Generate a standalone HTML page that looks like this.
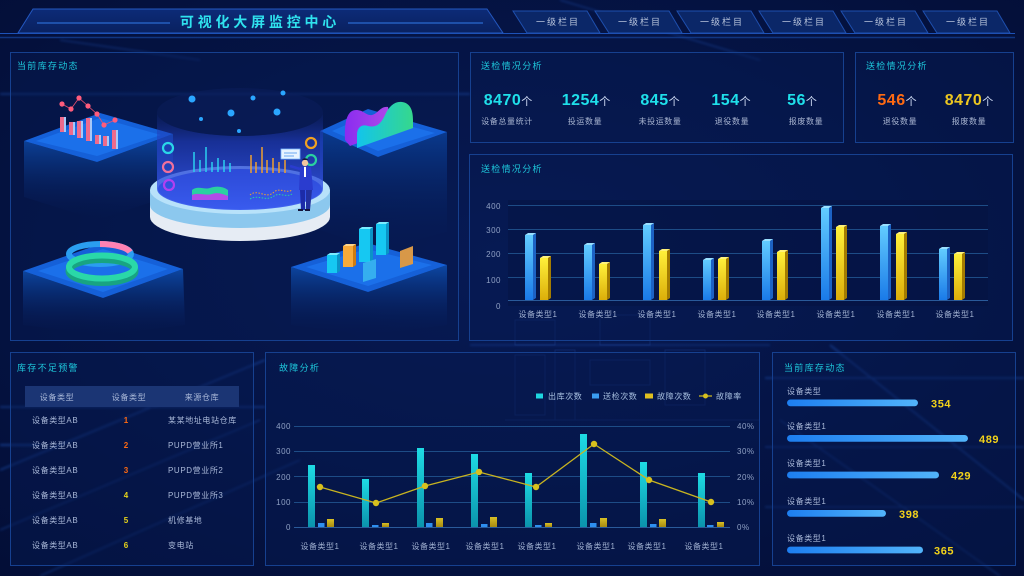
<!DOCTYPE html>
<html><head><meta charset="utf-8">
<style>
html,body{margin:0;padding:0;background:#04113d;width:1024px;height:576px;overflow:hidden;}
svg{display:block;}
text{font-family:"Liberation Sans","Noto Sans CJK SC",sans-serif;}
</style></head><body>
<svg width="1024" height="576" viewBox="0 0 1024 576" xmlns="http://www.w3.org/2000/svg">
<defs>
  <radialGradient id="bg" cx="50%" cy="45%" r="75%">
    <stop offset="0" stop-color="#071a55"/>
    <stop offset="1" stop-color="#030e36"/>
  </radialGradient>
  <linearGradient id="hdr" x1="0" y1="0" x2="0" y2="1">
    <stop offset="0" stop-color="#0c2b78"/>
    <stop offset="1" stop-color="#0a2160"/>
  </linearGradient>
  <linearGradient id="gb" x1="0" y1="0" x2="0" y2="1">
    <stop offset="0" stop-color="#62ccff"/>
    <stop offset="1" stop-color="#1a7ae8"/>
  </linearGradient>
  <linearGradient id="gy" x1="0" y1="0" x2="0" y2="1">
    <stop offset="0" stop-color="#fff03a"/>
    <stop offset="1" stop-color="#dcae0a"/>
  </linearGradient>
  <linearGradient id="gc" x1="0" y1="0" x2="0" y2="1">
    <stop offset="0" stop-color="#1edbe4"/>
    <stop offset="1" stop-color="#0b93ac"/>
  </linearGradient>
  <linearGradient id="gyy" x1="0" y1="0" x2="0" y2="1">
    <stop offset="0" stop-color="#d8c026"/>
    <stop offset="1" stop-color="#a88a10"/>
  </linearGradient>
  <linearGradient id="hb" x1="0" y1="0" x2="1" y2="0">
    <stop offset="0" stop-color="#1d7ef0"/>
    <stop offset="1" stop-color="#52b4fa"/>
  </linearGradient>
  <linearGradient id="blk" x1="0" y1="0" x2="0" y2="1">
    <stop offset="0" stop-color="#0d4aa8" stop-opacity="0.95"/>
    <stop offset="1" stop-color="#061a55" stop-opacity="0"/>
  </linearGradient>
  <linearGradient id="blk2" x1="0" y1="0" x2="0" y2="1">
    <stop offset="0" stop-color="#0a3c92" stop-opacity="0.95"/>
    <stop offset="1" stop-color="#061a55" stop-opacity="0"/>
  </linearGradient>
  <linearGradient id="cyl" x1="0" y1="0" x2="0" y2="1">
    <stop offset="0" stop-color="#1a2f8a" stop-opacity="0.15"/>
    <stop offset="0.3" stop-color="#2440c8" stop-opacity="0.6"/>
    <stop offset="1" stop-color="#3a5cf0" stop-opacity="0.95"/>
  </linearGradient>
  <linearGradient id="wave1" x1="0" y1="0" x2="1" y2="0">
    <stop offset="0" stop-color="#8a2cf0"/>
    <stop offset="1" stop-color="#b04ae8"/>
  </linearGradient>
  <linearGradient id="wave2" x1="0" y1="0" x2="1" y2="0">
    <stop offset="0" stop-color="#12c4ec"/>
    <stop offset="1" stop-color="#36d88c"/>
  </linearGradient>
  <filter id="blur"><feGaussianBlur stdDeviation="1.2"/></filter>
</defs>

<rect width="1024" height="576" fill="url(#bg)"/>

<!-- background streaks -->
<g stroke="#2f7cff" fill="none" opacity="0.35" filter="url(#blur)">
  <line x1="0" y1="94" x2="470" y2="94" stroke-width="1.5"/>
  <line x1="0" y1="407" x2="265" y2="407" stroke-width="1.5"/>
  <line x1="0" y1="445" x2="40" y2="445" stroke-width="2"/>
  <line x1="765" y1="378" x2="1024" y2="378" stroke-width="1.5"/>
  <line x1="765" y1="447" x2="1024" y2="447" stroke-width="1"/>
  <line x1="765" y1="507" x2="1024" y2="507" stroke-width="1"/>
  <line x1="0" y1="470" x2="265" y2="360" stroke-width="1.5"/>
  <line x1="0" y1="530" x2="260" y2="420" stroke-width="1"/>
  <line x1="40" y1="576" x2="300" y2="460" stroke-width="1"/>
  <line x1="830" y1="345" x2="1024" y2="500" stroke-width="1.5"/>
  <line x1="780" y1="420" x2="1000" y2="576" stroke-width="1"/>
  <line x1="60" y1="40" x2="200" y2="60" stroke-width="1"/>
  <line x1="560" y1="0" x2="760" y2="60" stroke-width="1"/>
  <line x1="470" y1="345" x2="770" y2="345" stroke-width="1"/>
</g>
<!-- faint circuit illustration -->
<g stroke="#3a6ad8" fill="none" opacity="0.18">
  <rect x="515" y="355" width="30" height="60"/>
  <rect x="555" y="350" width="20" height="70"/>
  <rect x="590" y="360" width="60" height="25"/>
  <rect x="665" y="350" width="40" height="55"/>
  <line x1="505" y1="420" x2="760" y2="420"/>
  <rect x="515" y="320" width="40" height="25"/>
  <rect x="600" y="315" width="50" height="30"/>
</g>

<!-- header -->
<polygon points="33,9 487,9 503,33 18,33" fill="url(#hdr)" stroke="#2458c0" stroke-width="1"/>
<line x1="37" y1="23" x2="170" y2="23" stroke="#2a6ad0" stroke-width="1.2"/>
<line x1="348" y1="23" x2="483" y2="23" stroke="#2a6ad0" stroke-width="1.2"/>
<text x="260" y="27" text-anchor="middle" font-size="14" font-weight="bold" fill="#2fe2ee" letter-spacing="3.8">可视化大屏监控中心</text>
<line x1="0" y1="33.5" x2="1015" y2="33.5" stroke="#1d52b8" stroke-width="1"/>
<line x1="0" y1="37.5" x2="1015" y2="37.5" stroke="#143f92" stroke-width="1.5" opacity="0.8"/>
<g>
  <polygon points="513,11 587,11 600,33 527,33" fill="#0b2768" stroke="#1e4fae"/>
  <polygon points="595,11 669,11 682,33 609,33" fill="#0b2768" stroke="#1e4fae"/>
  <polygon points="677,11 751,11 764,33 691,33" fill="#0b2768" stroke="#1e4fae"/>
  <polygon points="759,11 833,11 846,33 773,33" fill="#0b2768" stroke="#1e4fae"/>
  <polygon points="841,11 915,11 928,33 855,33" fill="#0b2768" stroke="#1e4fae"/>
  <polygon points="923,11 997,11 1010,33 937,33" fill="#0b2768" stroke="#1e4fae"/>
</g>
<g font-size="9" fill="#b8c4dc" letter-spacing="2" text-anchor="middle">
  <text x="558" y="25">一级栏目</text>
  <text x="640" y="25">一级栏目</text>
  <text x="722" y="25">一级栏目</text>
  <text x="804" y="25">一级栏目</text>
  <text x="886" y="25">一级栏目</text>
  <text x="968" y="25">一级栏目</text>
</g>

<!-- panels -->
<g fill="#061a52" fill-opacity="0.45" stroke="#16408f" stroke-width="1">
  <rect x="10.5" y="52.5" width="448" height="288"/>
  <rect x="470.5" y="52.5" width="373" height="90"/>
  <rect x="855.5" y="52.5" width="158" height="90"/>
  <rect x="469.5" y="154.5" width="543" height="186"/>
  <rect x="10.5" y="352.5" width="243" height="213"/>
  <rect x="265.5" y="352.5" width="494" height="213"/>
  <rect x="772.5" y="352.5" width="243" height="213"/>
</g>
<g font-size="9" fill="#1ec8dc" letter-spacing="1.3">
  <text x="17" y="69">当前库存动态</text>
  <text x="481" y="69">送检情况分析</text>
  <text x="866" y="69">送检情况分析</text>
  <text x="481" y="172">送检情况分析</text>
  <text x="17" y="371">库存不足预警</text>
  <text x="279" y="371">故障分析</text>
  <text x="784" y="371">当前库存动态</text>
</g>

<!-- ============ illustration ============ -->
<!-- top-left platform -->
<polygon points="24,141 97,162 173,134 173,195 97,220 24,197" fill="url(#blk)"/>
<polygon points="24,141 100,113 173,134 97,162" fill="#1560d8"/>
<polygon points="36,141 100,118 161,135 97,156" fill="#1b70ea"/>
<!-- top-right platform -->
<polygon points="320,131 378,157 447,132 447,232 378,250 320,230" fill="url(#blk2)"/>
<polygon points="320,131 368,109 447,132 378,157" fill="#1560d8"/>
<polygon points="332,131 369,115 435,133 378,151" fill="#1b70ea"/>
<!-- bottom-left platform -->
<polygon points="23,271 103,298 183,269 185,325 103,335 23,325" fill="url(#blk)"/>
<polygon points="23,271 103,243 183,269 103,298" fill="#1560d8"/>
<polygon points="38,271 103,249 168,269 103,292" fill="#1b70ea"/>
<!-- bottom-right platform -->
<polygon points="291,267 368,292 447,265 447,325 368,335 291,325" fill="url(#blk)"/>
<polygon points="291,267 367,243 447,265 368,292" fill="#1560d8"/>
<polygon points="306,267 367,249 432,265 368,286" fill="#1b70ea"/>

<!-- top-left bars chart -->
<g>
  <rect x="60" y="117" width="4" height="15" fill="#ee6a8c"/><rect x="64" y="117" width="2" height="15" fill="#a8c8f8"/>
  <rect x="69" y="122" width="4" height="13" fill="#ee6a8c"/><rect x="73" y="122" width="2" height="13" fill="#a8c8f8"/>
  <rect x="77" y="121" width="4" height="17" fill="#ee6a8c"/><rect x="81" y="121" width="2" height="17" fill="#a8c8f8"/>
  <rect x="86" y="118" width="4" height="23" fill="#ee6a8c"/><rect x="90" y="118" width="2" height="23" fill="#a8c8f8"/>
  <rect x="95" y="135" width="4" height="9" fill="#ee6a8c"/><rect x="99" y="135" width="2" height="9" fill="#a8c8f8"/>
  <rect x="103" y="136" width="4" height="10" fill="#ee6a8c"/><rect x="107" y="136" width="2" height="10" fill="#a8c8f8"/>
  <rect x="112" y="130" width="4" height="19" fill="#ee6a8c"/><rect x="116" y="130" width="2" height="19" fill="#a8c8f8"/>
  <polyline points="62,104 71,109 79,98 88,106 97,114 104,125 115,120" fill="none" stroke="#e8506e" stroke-width="0.8"/>
  <g fill="#ff5c7c">
    <circle cx="62" cy="104" r="2.6"/><circle cx="71" cy="109" r="2.6"/><circle cx="79" cy="98" r="2.6"/>
    <circle cx="88" cy="106" r="2.6"/><circle cx="97" cy="114" r="2.6"/><circle cx="104" cy="125" r="2.6"/><circle cx="115" cy="120" r="2.6"/>
  </g>
</g>
<!-- top-right waves -->
<path d="M345,140 C344,120 348,110 356,110 C364,110 366,116 372,115 C378,114 380,106 388,107 L392,130 L350,146 Z" fill="url(#wave1)"/>
<path d="M357,148 L357,135 C357,127 362,124 368,126 C376,128 381,124 385,115 C389,106 395,101 402,102 C410,103 413,110 413,120 L413,128 Z" fill="url(#wave2)"/>
<!-- bottom-left rings -->
<ellipse cx="100" cy="254" rx="31" ry="10" fill="none" stroke="#2a9ef0" stroke-width="6"/>
<path d="M100,244 A31,10 0 0 1 130,252" fill="none" stroke="#ff82b2" stroke-width="6"/>
<ellipse cx="102" cy="271" rx="33" ry="11.5" fill="none" stroke="#18a482" stroke-width="7"/>
<ellipse cx="102" cy="267" rx="33" ry="11.5" fill="none" stroke="#2ad8a8" stroke-width="6"/>
<!-- bottom-right cubes -->
<g>
  <rect x="327" y="255" width="10" height="18" fill="#16c8f2"/><polygon points="337,255 340,253 340,271 337,273" fill="#0a94c8"/><polygon points="327,255 330,253 340,253 337,255" fill="#7aecff"/>
  <rect x="343" y="246" width="10" height="21" fill="#f8aa3a"/><polygon points="353,246 356,244 356,265 353,267" fill="#d07c10"/><polygon points="343,246 346,244 356,244 353,246" fill="#ffd488"/>
  <rect x="359" y="229" width="11" height="33" fill="#16c8f2"/><polygon points="370,229 373,227 373,260 370,262" fill="#0a94c8"/><polygon points="359,229 362,227 373,227 370,229" fill="#7aecff"/>
  <rect x="376" y="224" width="10" height="31" fill="#16c8f2"/><polygon points="386,224 389,222 389,253 386,255" fill="#0a94c8"/><polygon points="376,224 379,222 389,222 386,224" fill="#7aecff"/>
  <polygon points="363,263 376,259 376,278 363,282" fill="#3ab8f0" opacity="0.85"/>
  <polygon points="400,251 413,246 413,264 400,268" fill="#d89848"/>
</g>

<!-- central cylinder -->
<ellipse cx="240" cy="217" rx="90" ry="24" fill="#e6ecf4"/>
<rect x="150" y="196" width="180" height="21" fill="#e6ecf4"/>
<ellipse cx="240" cy="205" rx="90" ry="23" fill="#8cc8ee"/>
<rect x="150" y="190" width="180" height="15" fill="#8cc8ee"/>
<ellipse cx="240" cy="190" rx="90" ry="24" fill="#b8e2fa"/>
<ellipse cx="240" cy="189" rx="82" ry="20" fill="#2c4ad8"/>
<path d="M157,112 L157,189 A83,21 0 0 0 323,189 L323,112 A83,24 0 0 1 157,112 Z" fill="url(#cyl)"/>
<ellipse cx="240" cy="112" rx="83" ry="24" fill="#0c1d5c" opacity="0.5"/>
<g fill="#2aa6ff">
  <circle cx="192" cy="99" r="3.5"/><circle cx="253" cy="98" r="2.5"/><circle cx="231" cy="113" r="3.5"/>
  <circle cx="277" cy="112" r="3.5"/><circle cx="201" cy="119" r="2"/><circle cx="239" cy="131" r="2"/><circle cx="283" cy="93" r="2.5"/>
</g>
<!-- screens on cylinder -->
<g stroke-width="1.5">
  <line x1="194" y1="172" x2="194" y2="152" stroke="#2ad0f0"/>
  <line x1="200" y1="172" x2="200" y2="160" stroke="#2ad0f0"/>
  <line x1="206" y1="172" x2="206" y2="147" stroke="#2ad0f0"/>
  <line x1="212" y1="172" x2="212" y2="162" stroke="#2ad0f0"/>
  <line x1="218" y1="172" x2="218" y2="158" stroke="#2ad0f0"/>
  <line x1="224" y1="172" x2="224" y2="160" stroke="#2ad0f0"/>
  <line x1="230" y1="172" x2="230" y2="163" stroke="#2ad0f0"/>
  <line x1="251" y1="173" x2="251" y2="155" stroke="#f0a030"/>
  <line x1="256" y1="173" x2="256" y2="162" stroke="#f0a030"/>
  <line x1="262" y1="173" x2="262" y2="147" stroke="#f0a030"/>
  <line x1="267" y1="173" x2="267" y2="160" stroke="#f0a030"/>
  <line x1="273" y1="173" x2="273" y2="158" stroke="#f0a030"/>
  <line x1="279" y1="173" x2="279" y2="162" stroke="#f0a030"/>
  <line x1="285" y1="173" x2="285" y2="160" stroke="#f0a030"/>
</g>
<path d="M192,200 L192,190 C198,185 204,190 210,188 C216,186 222,186 228,190 L228,200 Z" fill="#2ad0a0"/>
<path d="M192,200 L192,195 C198,192 206,196 212,194 C218,192 222,194 228,196 L228,200 Z" fill="#b24ae8"/>
<path d="M250,195 C258,188 266,200 274,192 C280,187 286,194 292,190" fill="none" stroke="#f0a030" stroke-width="1" stroke-dasharray="1.5,1.5"/>
<path d="M250,199 C258,194 266,202 274,196 C280,192 286,198 292,194" fill="none" stroke="#2ad0a0" stroke-width="1" stroke-dasharray="1.5,1.5"/>
<g fill="none" stroke-width="2.2">
  <circle cx="168" cy="148" r="5" stroke="#2ad6e8"/>
  <circle cx="168" cy="167" r="5" stroke="#f0709c"/>
  <circle cx="169" cy="185" r="5" stroke="#b040f0"/>
  <circle cx="311" cy="143" r="5" stroke="#f0a020"/>
  <circle cx="311" cy="160" r="5" stroke="#2ad0a0"/>
</g>
<!-- man -->
<rect x="281" y="149" width="19" height="10" fill="#e8f4ff" stroke="#7ab8ff" stroke-width="0.8"/>
<line x1="284" y1="153" x2="297" y2="153" stroke="#6aa8f0" stroke-width="1"/>
<line x1="284" y1="156" x2="294" y2="156" stroke="#6aa8f0" stroke-width="1"/>
<circle cx="305" cy="163" r="3.2" fill="#f2c8a0"/>
<path d="M301.5,162 A3.6,3.6 0 0 1 308.6,161 L308,160 L302,160 Z" fill="#1a1a3a"/>
<polygon points="300,167 311,167 313,190 299,190" fill="#2a3ccf"/>
<line x1="300" y1="169" x2="290" y2="166" stroke="#2a3ccf" stroke-width="2.5"/>
<rect x="304" y="167" width="2" height="10" fill="#ffffff"/>
<polygon points="300,190 305,190 305,210 301,210" fill="#1c2ba8"/>
<polygon points="306,190 312,190 310,210 306,210" fill="#22309e"/>
<rect x="298" y="209" width="5" height="2" fill="#14143a"/>
<rect x="305" y="209" width="5" height="2" fill="#14143a"/>

<!-- ============ top stats ============ -->
<g text-anchor="middle">
  <text x="508" y="105"><tspan font-size="16" font-weight="bold" fill="#1fe0ea" letter-spacing="0.5">8470</tspan><tspan font-size="11" fill="#d0dcf5">个</tspan></text>
  <text x="586" y="105"><tspan font-size="16" font-weight="bold" fill="#1fe0ea" letter-spacing="0.5">1254</tspan><tspan font-size="11" fill="#d0dcf5">个</tspan></text>
  <text x="660" y="105"><tspan font-size="16" font-weight="bold" fill="#1fe0ea" letter-spacing="0.5">845</tspan><tspan font-size="11" fill="#d0dcf5">个</tspan></text>
  <text x="731" y="105"><tspan font-size="16" font-weight="bold" fill="#1fe0ea" letter-spacing="0.5">154</tspan><tspan font-size="11" fill="#d0dcf5">个</tspan></text>
  <text x="802" y="105"><tspan font-size="16" font-weight="bold" fill="#1fe0ea" letter-spacing="0.5">56</tspan><tspan font-size="11" fill="#d0dcf5">个</tspan></text>
  <text x="897" y="105"><tspan font-size="16" font-weight="bold" fill="#ff6a12" letter-spacing="0.5">546</tspan><tspan font-size="11" fill="#d0dcf5">个</tspan></text>
  <text x="969" y="105"><tspan font-size="16" font-weight="bold" fill="#ecc620" letter-spacing="0.5">8470</tspan><tspan font-size="11" fill="#d0dcf5">个</tspan></text>
</g>
<g text-anchor="middle" font-size="8" fill="#a8b4d0" letter-spacing="0.6">
  <text x="507" y="124">设备总量统计</text>
  <text x="585" y="124">投运数量</text>
  <text x="660" y="124">未投运数量</text>
  <text x="732" y="124">退役数量</text>
  <text x="806" y="124">报废数量</text>
  <text x="900" y="124">退役数量</text>
  <text x="969" y="124">报废数量</text>
</g>

<!-- ============ bar chart 1 ============ -->
<rect x="508" y="200" width="480" height="106" fill="#04123e" opacity="0.4"/>
<g stroke="#1d4c86" stroke-width="1">
  <line x1="508" y1="205.5" x2="988" y2="205.5"/>
  <line x1="508" y1="229.5" x2="988" y2="229.5"/>
  <line x1="508" y1="253.5" x2="988" y2="253.5"/>
  <line x1="508" y1="277.5" x2="988" y2="277.5"/>
  <line x1="508" y1="300.5" x2="988" y2="300.5" stroke="#2a5a9a"/>
</g>
<g font-size="8" fill="#8fa0c4" text-anchor="end" letter-spacing="0.5">
  <text x="501" y="209">400</text>
  <text x="501" y="233">300</text>
  <text x="501" y="257">200</text>
  <text x="501" y="283">100</text>
  <text x="501" y="309">0</text>
</g>
<g font-size="8" fill="#a0b0d0" text-anchor="middle" letter-spacing="0.5">
  <text x="538" y="317">设备类型1</text>
  <text x="598" y="317">设备类型1</text>
  <text x="657" y="317">设备类型1</text>
  <text x="717" y="317">设备类型1</text>
  <text x="776" y="317">设备类型1</text>
  <text x="836" y="317">设备类型1</text>
  <text x="896" y="317">设备类型1</text>
  <text x="955" y="317">设备类型1</text>
</g>
<g>
  <rect x="525" y="235" width="8" height="65" fill="url(#gb)"/><polygon points="533,235 536,233 536,298 533,300" fill="#1c62c4"/><polygon points="525,235 528,233 536,233 533,235" fill="#9ae0ff"/>
  <rect x="584" y="245" width="8" height="55" fill="url(#gb)"/><polygon points="592,245 595,243 595,298 592,300" fill="#1c62c4"/><polygon points="584,245 587,243 595,243 592,245" fill="#9ae0ff"/>
  <rect x="643" y="225" width="8" height="75" fill="url(#gb)"/><polygon points="651,225 654,223 654,298 651,300" fill="#1c62c4"/><polygon points="643,225 646,223 654,223 651,225" fill="#9ae0ff"/>
  <rect x="703" y="260" width="8" height="40" fill="url(#gb)"/><polygon points="711,260 714,258 714,298 711,300" fill="#1c62c4"/><polygon points="703,260 706,258 714,258 711,260" fill="#9ae0ff"/>
  <rect x="762" y="241" width="8" height="59" fill="url(#gb)"/><polygon points="770,241 773,239 773,298 770,300" fill="#1c62c4"/><polygon points="762,241 765,239 773,239 770,241" fill="#9ae0ff"/>
  <rect x="821" y="208" width="8" height="92" fill="url(#gb)"/><polygon points="829,208 832,206 832,298 829,300" fill="#1c62c4"/><polygon points="821,208 824,206 832,206 829,208" fill="#9ae0ff"/>
  <rect x="880" y="226" width="8" height="74" fill="url(#gb)"/><polygon points="888,226 891,224 891,298 888,300" fill="#1c62c4"/><polygon points="880,226 883,224 891,224 888,226" fill="#9ae0ff"/>
  <rect x="939" y="249" width="8" height="51" fill="url(#gb)"/><polygon points="947,249 950,247 950,298 947,300" fill="#1c62c4"/><polygon points="939,249 942,247 950,247 947,249" fill="#9ae0ff"/>

  <rect x="540" y="258" width="8" height="42" fill="url(#gy)"/><polygon points="548,258 551,256 551,298 548,300" fill="#a47c00"/><polygon points="540,258 543,256 551,256 548,258" fill="#fff27a"/>
  <rect x="599" y="264" width="8" height="36" fill="url(#gy)"/><polygon points="607,264 610,262 610,298 607,300" fill="#a47c00"/><polygon points="599,264 602,262 610,262 607,264" fill="#fff27a"/>
  <rect x="659" y="251" width="8" height="49" fill="url(#gy)"/><polygon points="667,251 670,249 670,298 667,300" fill="#a47c00"/><polygon points="659,251 662,249 670,249 667,251" fill="#fff27a"/>
  <rect x="718" y="259" width="8" height="41" fill="url(#gy)"/><polygon points="726,259 729,257 729,298 726,300" fill="#a47c00"/><polygon points="718,259 721,257 729,257 726,259" fill="#fff27a"/>
  <rect x="777" y="252" width="8" height="48" fill="url(#gy)"/><polygon points="785,252 788,250 788,298 785,300" fill="#a47c00"/><polygon points="777,252 780,250 788,250 785,252" fill="#fff27a"/>
  <rect x="836" y="227" width="8" height="73" fill="url(#gy)"/><polygon points="844,227 847,225 847,298 844,300" fill="#a47c00"/><polygon points="836,227 839,225 847,225 844,227" fill="#fff27a"/>
  <rect x="896" y="234" width="8" height="66" fill="url(#gy)"/><polygon points="904,234 907,232 907,298 904,300" fill="#a47c00"/><polygon points="896,234 899,232 907,232 904,234" fill="#fff27a"/>
  <rect x="954" y="254" width="8" height="46" fill="url(#gy)"/><polygon points="962,254 965,252 965,298 962,300" fill="#a47c00"/><polygon points="954,254 957,252 965,252 962,254" fill="#fff27a"/>
</g>

<!-- ============ table ============ -->
<rect x="25" y="386" width="214" height="21" fill="#1b3574"/>
<g font-size="8" fill="#a9b8d8" letter-spacing="0.6" text-anchor="middle">
  <text x="57" y="400">设备类型</text>
  <text x="129" y="400">设备类型</text>
  <text x="202" y="400">来源仓库</text>
</g>
<g font-size="8" fill="#a9b8d8" letter-spacing="0.6">
  <text x="32" y="423">设备类型AB</text>
  <text x="32" y="448">设备类型AB</text>
  <text x="32" y="473">设备类型AB</text>
  <text x="32" y="498">设备类型AB</text>
  <text x="32" y="523">设备类型AB</text>
  <text x="32" y="548">设备类型AB</text>
  <text x="168" y="423">某某地址电站仓库</text>
  <text x="168" y="448">PUPD营业所1</text>
  <text x="168" y="473">PUPD营业所2</text>
  <text x="168" y="498">PUPD营业所3</text>
  <text x="168" y="523">机修基地</text>
  <text x="168" y="548">变电站</text>
</g>
<g font-size="8" font-weight="bold" text-anchor="middle">
  <text x="126" y="423" fill="#ff6a12">1</text>
  <text x="126" y="448" fill="#ff6a12">2</text>
  <text x="126" y="473" fill="#ff6a12">3</text>
  <text x="126" y="498" fill="#e8d41a">4</text>
  <text x="126" y="523" fill="#e8d41a">5</text>
  <text x="126" y="548" fill="#e8d41a">6</text>
</g>

<!-- ============ fault chart ============ -->
<g stroke="#1d4c86" stroke-width="1">
  <line x1="294" y1="426.5" x2="730" y2="426.5"/>
  <line x1="294" y1="451.5" x2="730" y2="451.5"/>
  <line x1="294" y1="476.5" x2="730" y2="476.5"/>
  <line x1="294" y1="502.5" x2="730" y2="502.5"/>
  <line x1="294" y1="527.5" x2="730" y2="527.5" stroke="#2a5a9a"/>
</g>
<g font-size="8" fill="#8fa0c4" text-anchor="end" letter-spacing="0.5">
  <text x="291" y="429">400</text>
  <text x="291" y="454">300</text>
  <text x="291" y="480">200</text>
  <text x="291" y="505">100</text>
  <text x="291" y="530">0</text>
</g>
<g font-size="8" fill="#8fa0c4" letter-spacing="0.5">
  <text x="737" y="429">40%</text>
  <text x="737" y="454">30%</text>
  <text x="737" y="480">20%</text>
  <text x="737" y="505">10%</text>
  <text x="737" y="530">0%</text>
</g>
<g font-size="8" fill="#a0b0d0" text-anchor="middle" letter-spacing="0.5">
  <text x="320" y="549">设备类型1</text>
  <text x="379" y="549">设备类型1</text>
  <text x="431" y="549">设备类型1</text>
  <text x="485" y="549">设备类型1</text>
  <text x="537" y="549">设备类型1</text>
  <text x="596" y="549">设备类型1</text>
  <text x="647" y="549">设备类型1</text>
  <text x="704" y="549">设备类型1</text>
</g>
<g fill="url(#gc)">
  <rect x="308" y="465" width="7" height="62"/>
  <rect x="362" y="479" width="7" height="48"/>
  <rect x="417" y="448" width="7" height="79"/>
  <rect x="471" y="454" width="7" height="73"/>
  <rect x="525" y="473" width="7" height="54"/>
  <rect x="580" y="434" width="7" height="93"/>
  <rect x="640" y="462" width="7" height="65"/>
  <rect x="698" y="473" width="7" height="54"/>
</g>
<g fill="#2e8ff0">
  <rect x="318" y="523" width="6.5" height="4"/>
  <rect x="372" y="525" width="6.5" height="2"/>
  <rect x="426" y="523" width="6.5" height="4"/>
  <rect x="481" y="524" width="6.5" height="3"/>
  <rect x="535" y="525" width="6.5" height="2"/>
  <rect x="590" y="523" width="6.5" height="4"/>
  <rect x="650" y="524" width="6.5" height="3"/>
  <rect x="707" y="525" width="6.5" height="2"/>
</g>
<g fill="url(#gyy)">
  <rect x="327" y="519" width="7" height="8"/>
  <rect x="382" y="523" width="7" height="4"/>
  <rect x="436" y="518" width="7" height="9"/>
  <rect x="490" y="517" width="7" height="10"/>
  <rect x="545" y="523" width="7" height="4"/>
  <rect x="600" y="518" width="7" height="9"/>
  <rect x="659" y="519" width="7" height="8"/>
  <rect x="717" y="522" width="7" height="5"/>
</g>
<polyline points="320,487 376,503 425,486 479,472 536,487 594,444 649,480 711,502" fill="none" stroke="#c8b420" stroke-width="1.3"/>
<g fill="#d8c01e">
  <circle cx="320" cy="487" r="3.2"/><circle cx="376" cy="503" r="3.2"/><circle cx="425" cy="486" r="3.2"/>
  <circle cx="479" cy="472" r="3.2"/><circle cx="536" cy="487" r="3.2"/><circle cx="594" cy="444" r="3.2"/>
  <circle cx="649" cy="480" r="3.2"/><circle cx="711" cy="502" r="3.2"/>
</g>
<!-- legend -->
<rect x="536" y="393.5" width="7" height="5" fill="#1ed6e0"/>
<rect x="592" y="393.5" width="7" height="5" fill="#3a9cf0"/>
<rect x="645" y="393.5" width="8" height="5" fill="#e0c020"/>
<line x1="699" y1="396" x2="712" y2="396" stroke="#c8b420" stroke-width="1.3"/>
<circle cx="705.5" cy="396" r="2.5" fill="#d8c01e"/>
<g font-size="8" fill="#a8c0e0" letter-spacing="0.6">
  <text x="548" y="399">出库次数</text>
  <text x="603" y="399">送检次数</text>
  <text x="657" y="399">故障次数</text>
  <text x="716" y="399">故障率</text>
</g>

<!-- ============ horizontal bars ============ -->
<g font-size="8" fill="#a9b8d8" letter-spacing="0.6">
  <text x="787" y="394">设备类型</text>
  <text x="787" y="429">设备类型1</text>
  <text x="787" y="466">设备类型1</text>
  <text x="787" y="504">设备类型1</text>
  <text x="787" y="541">设备类型1</text>
</g>
<g fill="url(#hb)">
  <rect x="787" y="399.5" width="131" height="6.8" rx="3.4"/>
  <rect x="787" y="435" width="181" height="6.8" rx="3.4"/>
  <rect x="787" y="471.6" width="152" height="6.8" rx="3.4"/>
  <rect x="787" y="510" width="99" height="6.8" rx="3.4"/>
  <rect x="787" y="546.6" width="136" height="6.8" rx="3.4"/>
</g>
<g font-size="11" font-weight="bold" fill="#f2d21a" letter-spacing="0.6">
  <text x="931" y="407.5">354</text>
  <text x="979" y="443">489</text>
  <text x="951" y="479.5">429</text>
  <text x="899" y="518">398</text>
  <text x="934" y="554.5">365</text>
</g>
</svg>
</body></html>
